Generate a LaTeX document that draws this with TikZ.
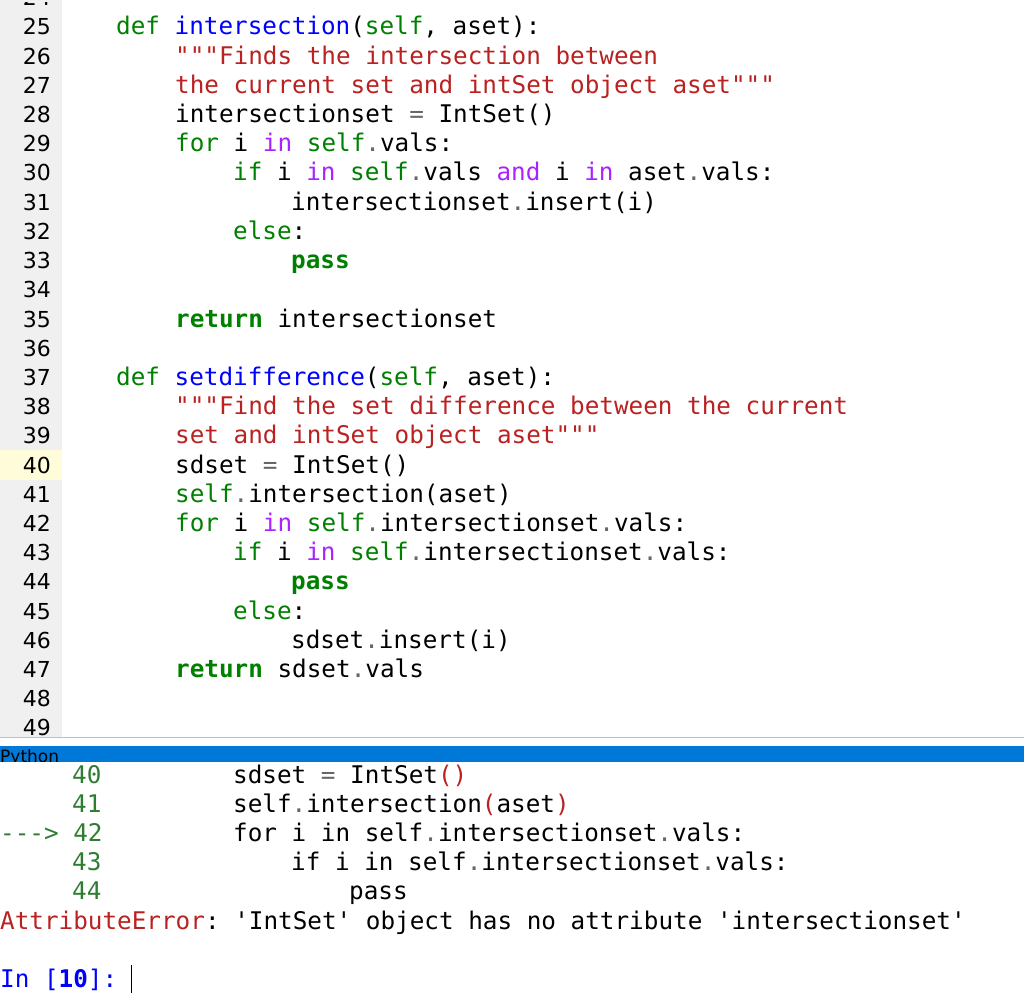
\documentclass[tikz,border=0pt]{standalone}
\usepackage{fontspec}
\setmonofont{DejaVu Sans Mono}
\setsansfont{DejaVu Sans}
\definecolor{kw}{HTML}{008000}
\definecolor{fn}{HTML}{0000FF}
\definecolor{st}{HTML}{BA2121}
\definecolor{pu}{HTML}{AA22FF}
\definecolor{op}{HTML}{666666}
\definecolor{gut}{HTML}{F0F0F0}
\definecolor{bar}{HTML}{0078D7}
\definecolor{cn}{HTML}{2E7D32}
\newcommand\kw[1]{\textcolor{kw}{#1}}
\newcommand\fn[1]{\textcolor{fn}{#1}}
\newcommand\st[1]{\textcolor{st}{#1}}
\newcommand\pu[1]{\textcolor{pu}{#1}}
\newcommand\op[1]{\textcolor{op}{#1}}
\tikzset{code/.style={anchor=base west,inner sep=0pt,font=\fontsize{24.3}{29}\ttfamily},
 num/.style={anchor=base east,inner sep=0pt,font=\fontsize{22}{29}\sffamily}}
\begin{document}
\begin{tikzpicture}[x=1pt,y=-1pt]
\useasboundingbox (0,0) rectangle (1024,995);
\fill[white] (0,0) rectangle (1024,995);
\fill[gut] (0,0) rectangle (62,737);
\fill[yellow!15] (0,450) rectangle (62,480);
\draw[gray!50] (0,737.5) -- (1024,737.5);
\fill[bar] (0,746) rectangle (1024,762);
\node[anchor=base west,inner sep=0pt,font=\fontsize{17}{17}\sffamily] (py) at (0,762) {Python};
\fill[white] (0,762) rectangle (1024,995);
\foreach \n in {25,...,49}{
 \node[num] (n\n) at (51,{35+29.2*(\n-25)}) {\n};}
\node[num] at (51,6) {24};
\fill[white] (62,0) rectangle (1024,2);
\fill[gut] (0,0) rectangle (62,2);
\def\ya#1{35+29.2*(#1-25)}
\node[code] (l25) at (116,{\ya{25}}) {\kw{def} \fn{intersection}(\kw{self}, aset):};
\node[code] (l26) at (175,{\ya{26}}) {\st{"""Finds the intersection between}};
\node[code] (l27) at (175,{\ya{27}}) {\st{the current set and intSet object aset"""}};
\node[code] (l28) at (175,{\ya{28}}) {intersectionset \op{=} IntSet()};
\node[code] (l29) at (175,{\ya{29}}) {\kw{for} i \pu{in} \kw{self}\op{.}vals:};
\node[code] (l30) at (233,{\ya{30}}) {\kw{if} i \pu{in} \kw{self}\op{.}vals \pu{and} i \pu{in} aset\op{.}vals:};
\node[code] (l31) at (291,{\ya{31}}) {intersectionset\op{.}insert(i)};
\node[code] (l32) at (233,{\ya{32}}) {\kw{else}:};
\node[code] (l33) at (291,{\ya{33}}) {\kw{\bfseries pass}};
\node[code] (l35) at (175,{\ya{35}}) {\kw{\bfseries return} intersectionset};
\node[code] (l37) at (116,{\ya{37}}) {\kw{def} \fn{setdifference}(\kw{self}, aset):};
\node[code] (l38) at (175,{\ya{38}}) {\st{"""Find the set difference between the current}};
\node[code] (l39) at (175,{\ya{39}}) {\st{set and intSet object aset"""}};
\node[code] (l40) at (175,{\ya{40}}) {sdset \op{=} IntSet()};
\node[code] (l41) at (175,{\ya{41}}) {\kw{self}\op{.}intersection(aset)};
\node[code] (l42) at (175,{\ya{42}}) {\kw{for} i \pu{in} \kw{self}\op{.}intersectionset\op{.}vals:};
\node[code] (l43) at (233,{\ya{43}}) {\kw{if} i \pu{in} \kw{self}\op{.}intersectionset\op{.}vals:};
\node[code] (l44) at (291,{\ya{44}}) {\kw{\bfseries pass}};
\node[code] (l45) at (233,{\ya{45}}) {\kw{else}:};
\node[code] (l46) at (291,{\ya{46}}) {sdset\op{.}insert(i)};
\node[code] (l47) at (175,{\ya{47}}) {\kw{\bfseries return} sdset\op{.}vals};
% console
\def\yb#1{783+29.2*(#1)}
\node[code] (c0n) at (72,{\yb{0}}) {\textcolor{cn}{40}};
\node[code] (c0) at (233,{\yb{0}}) {sdset \op{=} IntSet\textcolor{st}{()}};
\node[code] (c1n) at (72,{\yb{1}}) {\textcolor{cn}{41}};
\node[code] (c1) at (233,{\yb{1}}) {self\op{.}intersection\textcolor{st}{(}aset\textcolor{st}{)}};
\node[code] (c2n) at (0,{\yb{2}}) {\textcolor{cn}{-{}-{}-> 42}};
\node[code] (c2) at (233,{\yb{2}}) {for i in self\op{.}intersectionset\op{.}vals:};
\node[code] (c3n) at (72,{\yb{3}}) {\textcolor{cn}{43}};
\node[code] (c3) at (291,{\yb{3}}) {if i in self\op{.}intersectionset\op{.}vals:};
\node[code] (c4n) at (72,{\yb{4}}) {\textcolor{cn}{44}};
\node[code] (c4) at (349,{\yb{4}}) {pass};
\node[code] (err) at (0,{\yb{5}}) {\textcolor{st}{AttributeError}: 'IntSet' object has no attribute 'intersectionset'};
\node[code] (in) at (0,987) {\textcolor{fn}{In [\textbf{10}]:}};
\draw[black] (131,965) -- (131,993);
\end{tikzpicture}
\end{document}
